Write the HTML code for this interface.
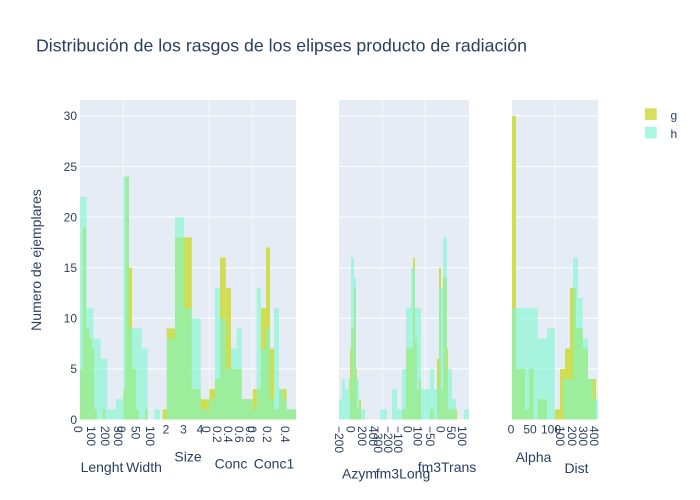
<!DOCTYPE html>
<html><head><meta charset="utf-8"><style>
html,body{margin:0;padding:0;background:#fff;}
svg{display:block;}
text{font-family:"Liberation Sans",sans-serif;fill:#2a3f5f;}
.t{font-size:12px;}
.a{font-size:14px;}
</style></head><body>
<svg width="700" height="500" viewBox="0 0 700 500" xmlns="http://www.w3.org/2000/svg">
<rect x="0" y="0" width="700" height="500" fill="#fff"/>
<!-- plot backgrounds -->
<rect x="80" y="100" width="216" height="319.5" fill="#e5ecf6"/>
<rect x="339" y="100" width="130" height="319.5" fill="#e5ecf6"/>
<rect x="512" y="100" width="86" height="319.5" fill="#e5ecf6"/>
<!-- gridlines -->
<g stroke="#fff" stroke-width="1">
<line x1="80" x2="296" y1="368.9" y2="368.9"/><line x1="80" x2="296" y1="318.3" y2="318.3"/><line x1="80" x2="296" y1="267.7" y2="267.7"/><line x1="80" x2="296" y1="217.1" y2="217.1"/><line x1="80" x2="296" y1="166.5" y2="166.5"/><line x1="80" x2="296" y1="115.9" y2="115.9"/>
<line x1="339" x2="469" y1="368.9" y2="368.9"/><line x1="339" x2="469" y1="318.3" y2="318.3"/><line x1="339" x2="469" y1="267.7" y2="267.7"/><line x1="339" x2="469" y1="217.1" y2="217.1"/><line x1="339" x2="469" y1="166.5" y2="166.5"/><line x1="339" x2="469" y1="115.9" y2="115.9"/>
<line x1="512" x2="598" y1="368.9" y2="368.9"/><line x1="512" x2="598" y1="318.3" y2="318.3"/><line x1="512" x2="598" y1="267.7" y2="267.7"/><line x1="512" x2="598" y1="217.1" y2="217.1"/><line x1="512" x2="598" y1="166.5" y2="166.5"/><line x1="512" x2="598" y1="115.9" y2="115.9"/>
</g>
<g stroke="#fff" stroke-opacity="0.6" stroke-width="1">
<line x1="123.3" x2="123.3" y1="100" y2="419.5"/><line x1="209.3" x2="209.3" y1="100" y2="419.5"/><line x1="252.3" x2="252.3" y1="100" y2="419.5"/>
<line x1="382.3" x2="382.3" y1="100" y2="419.5"/><line x1="425" x2="425" y1="100" y2="419.5"/>
<line x1="555" x2="555" y1="100" y2="419.5"/>
</g>
<!-- bars -->
<g transform="translate(0,419.5) scale(1,-10.12)">
<g fill="rgb(206,221,82)">
<rect x="80" y="0" width="2.7" height="5"/><rect x="82.7" y="0" width="3.3" height="19"/><rect x="86" y="0" width="3.3" height="9"/><rect x="89.3" y="0" width="2.4" height="8"/><rect x="91.7" y="0" width="2.3" height="7"/><rect x="94" y="0" width="2.7" height="1"/><rect x="102.7" y="0" width="2.6" height="1"/>
<rect x="123.3" y="0" width="2" height="3"/><rect x="125.3" y="0" width="3.7" height="24"/><rect x="129" y="0" width="3" height="15"/><rect x="132" y="0" width="4" height="5"/><rect x="136" y="0" width="3" height="1"/><rect x="145" y="0" width="2.7" height="1"/>
<rect x="162.7" y="0" width="4" height="1"/><rect x="166.7" y="0" width="8.3" height="9"/><rect x="175" y="0" width="16.7" height="18"/><rect x="191.7" y="0" width="9" height="3"/><rect x="200.7" y="0" width="8.6" height="2"/>
<rect x="209.3" y="0" width="5.7" height="3"/><rect x="215" y="0" width="5" height="4"/><rect x="220" y="0" width="5.7" height="16"/><rect x="225.7" y="0" width="5.3" height="13"/><rect x="231" y="0" width="10.7" height="5"/><rect x="241.7" y="0" width="11" height="2"/>
<rect x="252.7" y="0" width="4" height="3"/><rect x="256.7" y="0" width="4.3" height="3"/><rect x="261" y="0" width="5" height="11"/><rect x="266" y="0" width="4" height="17"/><rect x="270" y="0" width="4" height="7"/><rect x="274" y="0" width="5" height="1"/><rect x="279" y="0" width="4.3" height="3"/><rect x="283.3" y="0" width="3.4" height="3"/><rect x="286.7" y="0" width="9.3" height="1"/>
<rect x="350" y="0" width="1" height="7"/><rect x="351" y="0" width="3" height="9"/><rect x="354" y="0" width="2" height="13"/><rect x="356" y="0" width="1" height="5"/><rect x="357" y="0" width="2" height="1"/><rect x="359" y="0" width="2" height="2"/>
<rect x="402" y="0" width="4" height="1"/><rect x="406" y="0" width="5" height="7"/><rect x="411" y="0" width="2" height="7"/><rect x="413" y="0" width="2" height="16"/><rect x="415" y="0" width="2" height="8"/><rect x="417" y="0" width="2" height="3"/><rect x="419" y="0" width="2" height="4"/>
<rect x="430" y="0" width="4" height="1"/><rect x="437" y="0" width="2" height="6"/><rect x="439" y="0" width="2" height="15"/><rect x="441" y="0" width="2" height="3"/><rect x="443" y="0" width="4" height="14"/><rect x="447" y="0" width="1" height="7"/><rect x="448" y="0" width="4" height="1"/><rect x="452" y="0" width="4" height="1"/><rect x="456" y="0" width="1" height="1"/>
<rect x="512" y="0" width="4" height="30"/><rect x="516" y="0" width="9" height="5"/><rect x="525" y="0" width="4" height="1"/><rect x="529" y="0" width="4.7" height="5"/><rect x="537.7" y="0" width="9.3" height="2"/><rect x="555" y="0" width="5" height="1"/><rect x="560" y="0" width="5" height="5"/><rect x="565" y="0" width="5" height="7"/><rect x="570" y="0" width="6" height="13"/><rect x="576" y="0" width="6.7" height="9"/><rect x="582.7" y="0" width="5.3" height="7"/><rect x="588" y="0" width="5" height="4"/><rect x="593" y="0" width="3" height="4"/>
</g>
<g fill="rgb(124,249,206)" fill-opacity="0.6">
<rect x="80" y="0" width="6.7" height="22"/><rect x="86.7" y="0" width="6.6" height="11"/><rect x="93.3" y="0" width="7.4" height="8"/><rect x="100.7" y="0" width="6.6" height="6"/><rect x="107.3" y="0" width="8.7" height="1"/><rect x="116" y="0" width="7.3" height="2"/>
<rect x="123.3" y="0" width="5.7" height="24"/><rect x="129" y="0" width="12.7" height="9"/><rect x="141.7" y="0" width="6" height="7"/><rect x="154.3" y="0" width="5.7" height="1"/>
<rect x="166.7" y="0" width="8.3" height="8"/><rect x="175" y="0" width="9" height="20"/><rect x="184" y="0" width="7.7" height="11"/><rect x="191.7" y="0" width="9" height="10"/><rect x="200.7" y="0" width="8.6" height="1"/>
<rect x="209.3" y="0" width="5.7" height="2"/><rect x="215" y="0" width="5" height="13"/><rect x="220" y="0" width="5.7" height="10"/><rect x="225.7" y="0" width="5.3" height="5"/><rect x="231" y="0" width="5.7" height="7"/><rect x="236.7" y="0" width="5" height="9"/><rect x="241.7" y="0" width="11" height="2"/>
<rect x="252.7" y="0" width="4" height="1"/><rect x="256.7" y="0" width="4.3" height="13"/><rect x="261" y="0" width="5" height="7"/><rect x="266" y="0" width="4" height="9"/><rect x="270" y="0" width="4" height="2"/><rect x="274" y="0" width="5" height="11"/><rect x="279" y="0" width="4.3" height="3"/><rect x="283.3" y="0" width="3.4" height="2"/><rect x="286.7" y="0" width="9.3" height="1"/>
<rect x="339" y="0" width="3" height="2"/><rect x="342" y="0" width="3" height="4"/><rect x="345" y="0" width="3" height="3"/><rect x="348" y="0" width="2" height="4"/><rect x="350" y="0" width="1" height="2"/><rect x="351" y="0" width="3" height="16"/><rect x="354" y="0" width="2" height="14"/><rect x="356" y="0" width="3" height="4"/><rect x="359" y="0" width="2" height="1"/><rect x="361" y="0" width="4" height="1"/>
<rect x="380" y="0" width="7" height="1"/><rect x="392" y="0" width="5" height="3"/><rect x="397" y="0" width="5" height="1"/><rect x="402" y="0" width="4" height="5"/><rect x="406" y="0" width="5" height="11"/><rect x="411" y="0" width="4" height="15"/><rect x="415" y="0" width="6" height="11"/><rect x="421" y="0" width="9" height="3"/>
<rect x="430" y="0" width="4" height="5"/><rect x="434" y="0" width="5" height="3"/><rect x="439" y="0" width="4" height="13"/><rect x="443" y="0" width="4" height="18"/><rect x="447" y="0" width="1" height="5"/><rect x="448" y="0" width="4" height="5"/><rect x="452" y="0" width="4" height="2"/><rect x="464" y="0" width="5" height="1"/>
<rect x="512" y="0" width="25.7" height="11"/><rect x="537.7" y="0" width="9.3" height="8"/><rect x="547" y="0" width="8" height="9"/><rect x="563.3" y="0" width="9.7" height="4"/><rect x="573" y="0" width="5" height="16"/><rect x="578" y="0" width="4.7" height="12"/><rect x="582.7" y="0" width="5.3" height="8"/><rect x="588" y="0" width="5" height="4"/><rect x="593" y="0" width="3" height="2"/><rect x="596" y="0" width="2" height="2"/>
</g>
</g>
<!-- title -->
<text x="36" y="51.5" style="font-size:17.5px" textLength="491" lengthAdjust="spacingAndGlyphs">Distribución de los rasgos de los elipses producto de radiación</text>
<!-- y ticks -->
<g class="t" text-anchor="end">
<text x="77" y="423.8">0</text><text x="77" y="373.2">5</text><text x="77" y="322.6">10</text><text x="77" y="272">15</text><text x="77" y="221.4">20</text><text x="77" y="170.8">25</text><text x="77" y="120.2">30</text>
</g>
<text class="a" text-anchor="middle" transform="translate(41,260) rotate(-90)">Numero de ejemplares</text>
<!-- rotated x ticks -->
<g class="t">
<text transform="translate(78,426) rotate(90)" dy="0.35em">0</text>
<text transform="translate(91,426) rotate(90)" dy="0.35em">100</text>
<text transform="translate(105,426) rotate(90)" dy="0.35em">200</text>
<text transform="translate(118,426) rotate(90)" dy="0.35em">300</text>
<text transform="translate(121,426) rotate(90)" dy="0.35em">0</text>
<text transform="translate(135.5,426) rotate(90)" dy="0.35em">50</text>
<text transform="translate(150,426) rotate(90)" dy="0.35em">100</text>
<text transform="translate(206,426) rotate(90)" dy="0.35em">0</text>
<text transform="translate(217,426) rotate(90)" dy="0.35em">0.2</text>
<text transform="translate(228,426) rotate(90)" dy="0.35em">0.4</text>
<text transform="translate(239,426) rotate(90)" dy="0.35em">0.6</text>
<text transform="translate(250,426) rotate(90)" dy="0.35em">0.8</text>
<text transform="translate(252,426) rotate(90)" dy="0.35em">0</text>
<text transform="translate(267,426) rotate(90)" dy="0.35em">0.2</text>
<text transform="translate(285,426) rotate(90)" dy="0.35em">0.4</text>
<text transform="translate(339,426) rotate(90)" dy="0.35em">−200</text>
<text transform="translate(350.5,426) rotate(90)" dy="0.35em">0</text>
<text transform="translate(362,426) rotate(90)" dy="0.35em">200</text>
<text transform="translate(373,426) rotate(90)" dy="0.35em">400</text>
<text transform="translate(378,426) rotate(90)" dy="0.35em">−300</text>
<text transform="translate(388,426) rotate(90)" dy="0.35em">−200</text>
<text transform="translate(398,426) rotate(90)" dy="0.35em">−100</text>
<text transform="translate(407.5,426) rotate(90)" dy="0.35em">0</text>
<text transform="translate(417.5,426) rotate(90)" dy="0.35em">100</text>
<text transform="translate(430,426) rotate(90)" dy="0.35em">−50</text>
<text transform="translate(440.5,426) rotate(90)" dy="0.35em">0</text>
<text transform="translate(451,426) rotate(90)" dy="0.35em">50</text>
<text transform="translate(462,426) rotate(90)" dy="0.35em">100</text>
<text transform="translate(560,426) rotate(90)" dy="0.35em">100</text>
<text transform="translate(572,426) rotate(90)" dy="0.35em">200</text>
<text transform="translate(583,426) rotate(90)" dy="0.35em">300</text>
<text transform="translate(594,426) rotate(90)" dy="0.35em">400</text>
</g>
<!-- horizontal x ticks -->
<g class="t" text-anchor="middle">
<text x="166" y="433.5">2</text><text x="183.5" y="433.5">3</text><text x="200" y="433.5">4</text>
<text x="511" y="433.5">0</text><text x="530" y="433.5">50</text><text x="551" y="433.5">100</text>
</g>
<!-- axis titles -->
<g class="a" text-anchor="middle">
<text x="102" y="472">Lenght</text>
<text x="144" y="472">Width</text>
<text x="188" y="461.5">Size</text>
<text x="231" y="468.5">Conc</text>
<text x="274" y="468.5">Conc1</text>
<text x="359.5" y="478.5">Azym</text>
<text x="403" y="478.5">fm3Long</text>
<text x="447" y="472">fm3Trans</text>
<text x="533.5" y="462">Alpha</text>
<text x="576.5" y="473">Dist</text>
</g>
<!-- legend -->
<rect x="645" y="108.3" width="11.7" height="11.7" fill="rgb(213,225,92)"/>
<rect x="645" y="126.8" width="11.7" height="11.7" fill="rgb(168,248,223)"/>
<text class="t" x="670.5" y="119.5">g</text>
<text class="t" x="670.5" y="137.8">h</text>
</svg>
</body></html>
